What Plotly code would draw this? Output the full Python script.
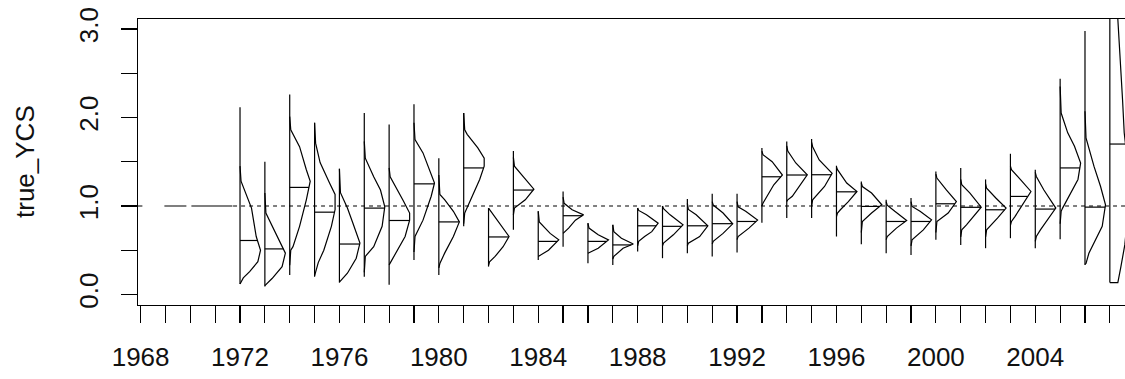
import numpy as np
import plotly.graph_objects as go

# ---------------- data ----------------
years = list(range(1972, 2008))

# range of each year's sample (vertical line)
y_min = [0.119, 0.09, 0.22, 0.20, 0.134, 0.20, 0.11, 0.39, 0.22, 0.77,
         0.315, 0.73, 0.39, 0.54, 0.353, 0.334, 0.485, 0.41, 0.466, 0.43,
         0.474, 0.81, 0.863, 0.863, 0.655, 0.568, 0.466, 0.447, 0.617, 0.56,
         0.523, 0.636, 0.523, 0.625, 0.334, 0.134]
y_max = [2.115, 1.50, 2.26, 1.94, 1.42, 2.05, 1.92, 2.15, 1.54, 2.05,
         0.976, 1.62, 0.94, 1.164, 0.806, 0.787, 0.976, 1.00, 1.078, 1.138,
         1.138, 1.656, 1.73, 1.757, 1.455, 1.277, 1.07, 1.09, 1.39, 1.43,
         1.30, 1.59, 1.41, 2.437, 2.976, 3.6]
# median (horizontal tick)
y_med = [0.61, 0.515, 1.21, 0.93, 0.57, 0.976, 0.836, 1.25, 0.82, 1.43,
         0.65, 1.18, 0.60, 0.89, 0.60, 0.56, 0.776, 0.77, 0.776, 0.80,
         0.825, 1.33, 1.35, 1.353, 1.16, 0.995, 0.825, 0.825, 1.025, 0.985,
         0.957, 1.108, 0.965, 1.43, 0.987, 1.70]

# density outline of each year: knot heights and relative density (peak = 1)
dens_y = [
    [0.119, 0.187, 0.26, 0.37, 0.50, 0.655, 0.976, 1.28, 1.45],
    [0.10, 0.18, 0.315, 0.467, 0.92, 1.146],
    [0.33, 0.50, 0.54, 0.77, 1.07, 1.28, 1.41, 1.67, 1.86, 2.01],
    [0.21, 0.36, 0.50, 0.77, 0.96, 1.13, 1.26, 1.49, 1.71, 1.94],
    [0.14, 0.24, 0.41, 0.58, 0.81, 0.976, 1.15, 1.42],
    [0.25, 0.43, 0.54, 0.77, 0.99, 1.18, 1.33, 1.54, 1.73],
    [0.334, 0.50, 0.655, 0.84, 0.92, 1.06, 1.22, 1.33, 1.43],
    [0.48, 0.655, 0.84, 1.11, 1.26, 1.41, 1.60, 1.75, 1.94],
    [0.30, 0.35, 0.47, 0.655, 0.82, 0.94, 1.07, 1.13, 1.35],
    [0.80, 0.92, 1.07, 1.30, 1.45, 1.54, 1.656, 1.81, 1.86, 2.05],
    [0.33, 0.37, 0.43, 0.54, 0.655, 0.84, 0.96, 0.976],
    [0.90, 0.976, 1.07, 1.19, 1.33, 1.45, 1.55],
    [0.43, 0.50, 0.617, 0.69, 0.82, 0.94],
    [0.69, 0.75, 0.84, 0.90, 0.957, 1.03, 1.10],
    [0.466, 0.523, 0.617, 0.674, 0.75, 0.806],
    [0.40, 0.43, 0.523, 0.57, 0.636, 0.71, 0.787],
    [0.55, 0.60, 0.655, 0.71, 0.806, 0.90, 0.95, 0.976],
    [0.55, 0.58, 0.674, 0.787, 0.90, 0.97, 1.0],
    [0.55, 0.58, 0.655, 0.776, 0.90, 0.96, 1.03],
    [0.57, 0.60, 0.69, 0.798, 0.92, 1.01, 1.05],
    [0.62, 0.655, 0.75, 0.84, 0.94, 0.99, 1.05],
    [1.0, 1.03, 1.11, 1.24, 1.35, 1.50, 1.58, 1.62],
    [1.05, 1.07, 1.11, 1.24, 1.353, 1.486, 1.62, 1.68],
    [1.0, 1.07, 1.22, 1.37, 1.52, 1.67, 1.72],
    [0.88, 0.92, 0.957, 1.05, 1.164, 1.26, 1.41, 1.44],
    [0.70, 0.825, 0.92, 1.014, 1.146, 1.22, 1.26],
    [0.62, 0.655, 0.75, 0.836, 0.94, 1.01, 1.05],
    [0.55, 0.617, 0.73, 0.844, 0.94, 0.995, 1.05],
    [0.70, 0.825, 0.92, 1.05, 1.18, 1.316, 1.36],
    [0.65, 0.73, 0.787, 0.88, 0.987, 1.146, 1.24, 1.30],
    [0.65, 0.73, 0.863, 0.976, 1.09, 1.20, 1.25],
    [0.78, 0.825, 0.88, 1.014, 1.164, 1.30, 1.41, 1.45],
    [0.60, 0.655, 0.73, 0.844, 0.976, 1.18, 1.334, 1.38],
    [0.80, 0.94, 0.976, 1.146, 1.30, 1.486, 1.674, 1.826, 2.05, 2.35],
    [0.34, 0.35, 0.466, 0.617, 0.77, 1.014, 1.22, 1.447, 1.77, 2.07],
    [0.134, 0.315, 0.56, 1.2, 1.83, 2.2, 2.81, 3.11, 3.6],
]
dens_w = [
    [0, 0.16, 0.48, 0.87, 1.0, 0.79, 0.56, 0.05, 0],
    [0, 0.35, 0.84, 1.0, 0.05, 0],
    [0, 0.05, 0.16, 0.48, 0.81, 1.0, 0.81, 0.48, 0.05, 0],
    [0, 0.18, 0.45, 0.82, 1.0, 1.0, 0.73, 0.27, 0.05, 0],
    [0, 0.39, 0.82, 1.0, 0.65, 0.39, 0.05, 0],
    [0, 0.05, 0.46, 0.87, 1.0, 0.79, 0.46, 0.05, 0],
    [0, 0.42, 0.78, 1.0, 1.0, 0.69, 0.33, 0.05, 0],
    [0, 0.05, 0.44, 0.84, 1.0, 0.76, 0.44, 0.05, 0],
    [0, 0.05, 0.29, 0.71, 1.0, 0.71, 0.29, 0.05, 0],
    [0, 0.05, 0.34, 0.78, 1.0, 1.0, 0.69, 0.17, 0.05, 0],
    [0, 0.05, 0.32, 0.71, 1.0, 0.4, 0.05, 0],
    [0, 0.05, 0.58, 1.0, 0.49, 0.05, 0],
    [0, 0.5, 1.0, 0.58, 0.05, 0],
    [0, 0.27, 0.6, 1.0, 0.44, 0.05, 0],
    [0, 0.5, 1.0, 0.5, 0.05, 0],
    [0, 0.05, 0.5, 1.0, 0.42, 0.05, 0],
    [0, 0.05, 0.34, 0.69, 1.0, 0.43, 0.05, 0],
    [0, 0.05, 0.53, 1.0, 0.37, 0.05, 0],
    [0, 0.05, 0.6, 1.0, 0.43, 0.05, 0],
    [0, 0.05, 0.53, 1.0, 0.53, 0.05, 0],
    [0, 0.05, 0.58, 1.0, 0.42, 0.05, 0],
    [0, 0.05, 0.25, 0.58, 1.0, 0.5, 0.05, 0],
    [0, 0.05, 0.27, 0.68, 1.0, 0.44, 0.05, 0],
    [0, 0.05, 0.63, 1.0, 0.37, 0.05, 0],
    [0, 0.05, 0.19, 0.58, 1.0, 0.5, 0.05, 0],
    [0, 0.05, 0.5, 1.0, 0.5, 0.05, 0],
    [0, 0.05, 0.5, 1.0, 0.42, 0.05, 0],
    [0, 0.05, 0.6, 1.0, 0.44, 0.05, 0],
    [0, 0.05, 0.6, 1.0, 0.52, 0.05, 0],
    [0, 0.05, 0.28, 0.62, 1.0, 0.45, 0.05, 0],
    [0, 0.05, 0.58, 1.0, 0.5, 0.05, 0],
    [0, 0.05, 0.22, 0.57, 1.0, 0.48, 0.05, 0],
    [0, 0.05, 0.25, 0.58, 1.0, 0.42, 0.05, 0],
    [0, 0.05, 0.12, 0.53, 0.87, 1.0, 0.7, 0.37, 0.05, 0],
    [0, 0.05, 0.19, 0.52, 0.84, 1.0, 0.76, 0.44, 0.05, 0],
    [0.39, 0.54, 0.73, 1.0, 0.70, 0.62, 0.49, 0.39, 0.2],
]

ref_level = 1.0                    # dashed reference line
early_start, early_end = 1967.87, 1971.72   # long-dash line before the first year
x_ticks = list(range(1968, 2009))
x_ticktext = [str(v) if (v - 1968) % 4 == 0 else "" for v in x_ticks]
y_ticks = [0.0, 0.5, 1.0, 1.5, 2.0, 2.5, 3.0]
y_ticktext = ["0.0", "", "1.0", "", "2.0", "", "3.0"]

# ---------------- drawing ----------------
PEAK = 0.825          # width of the tallest density, in years
FONT = "Liberation Sans, Arial, sans-serif"
FSIZE = 26
line_style = dict(color="black", width=1.2)

vx, vy = [], []
dx, dyy = [], []
mx, my = [], []
for yr, lo, hi, md, ky, kw in zip(years, y_min, y_max, y_med, dens_y, dens_w):
    vx += [yr, yr, None]
    vy += [lo, hi, None]
    xs = [yr] + [yr + PEAK * w for w in kw] + [yr]
    ys = [ky[0]] + list(ky) + [ky[-1]]
    dx += xs + [None]
    dyy += ys + [None]
    wm = float(np.interp(md, ky, kw))
    mx += [yr, yr + PEAK * wm, None]
    my += [md, md, None]

fig = go.Figure()
fig.add_trace(go.Scatter(x=[early_start, early_end], y=[ref_level, ref_level], mode="lines",
                         line=dict(color="black", width=1.2, dash="5px,22px,22px,5px,41px"),
                         hoverinfo="skip"))
fig.add_trace(go.Scatter(x=[early_end, 2010], y=[ref_level, ref_level], mode="lines",
                         line=dict(color="black", width=1.2, dash="4px,4px"), hoverinfo="skip"))
fig.add_trace(go.Scatter(x=vx, y=vy, mode="lines", line=line_style, hoverinfo="skip"))
fig.add_trace(go.Scatter(x=dx, y=dyy, mode="lines", line=line_style, hoverinfo="skip"))
fig.add_trace(go.Scatter(x=mx, y=my, mode="lines", line=line_style, hoverinfo="skip"))

fig.update_layout(
    width=1125, height=379,
    margin=dict(l=138, r=0, t=19, b=74, autoexpand=False),
    paper_bgcolor="white", plot_bgcolor="white",
    showlegend=False,
    font=dict(family=FONT, size=FSIZE, color="#111111"),
    annotations=[dict(text="true_YCS", xref="paper", yref="paper",
                      x=-(138 - 25) / 987, y=0.5, textangle=-90, showarrow=False,
                      xanchor="center", yanchor="middle",
                      font=dict(family=FONT, size=FSIZE, color="#111111"))],
)
fig.update_xaxes(range=[1967.895, 2007.61], tickmode="array", tickvals=x_ticks,
                 ticktext=x_ticktext, ticks="outside", ticklen=17, tickwidth=1.2,
                 tickcolor="black", showline=True, linecolor="black", linewidth=1.2,
                 mirror=True, showgrid=False, zeroline=False, ticklabelstandoff=12,
                 automargin=False, ticklabeloverflow="allow")
fig.update_yaxes(range=[-0.119, 3.113], tickmode="array", tickvals=y_ticks,
                 ticktext=y_ticktext, tickangle=-90, ticks="outside", ticklen=16,
                 tickwidth=1.2, tickcolor="black", showline=True, linecolor="black",
                 linewidth=1.2, showgrid=False, zeroline=False, ticklabelstandoff=12,
                 automargin=False, ticklabeloverflow="allow")

# remove the browser's default 8px page margin so the figure fills the window exactly
fig.write_html("out.html",
               config={"displayModeBar": False, "staticPlot": True},
               post_script="document.body.style.margin='0';document.body.style.overflow='hidden';")
